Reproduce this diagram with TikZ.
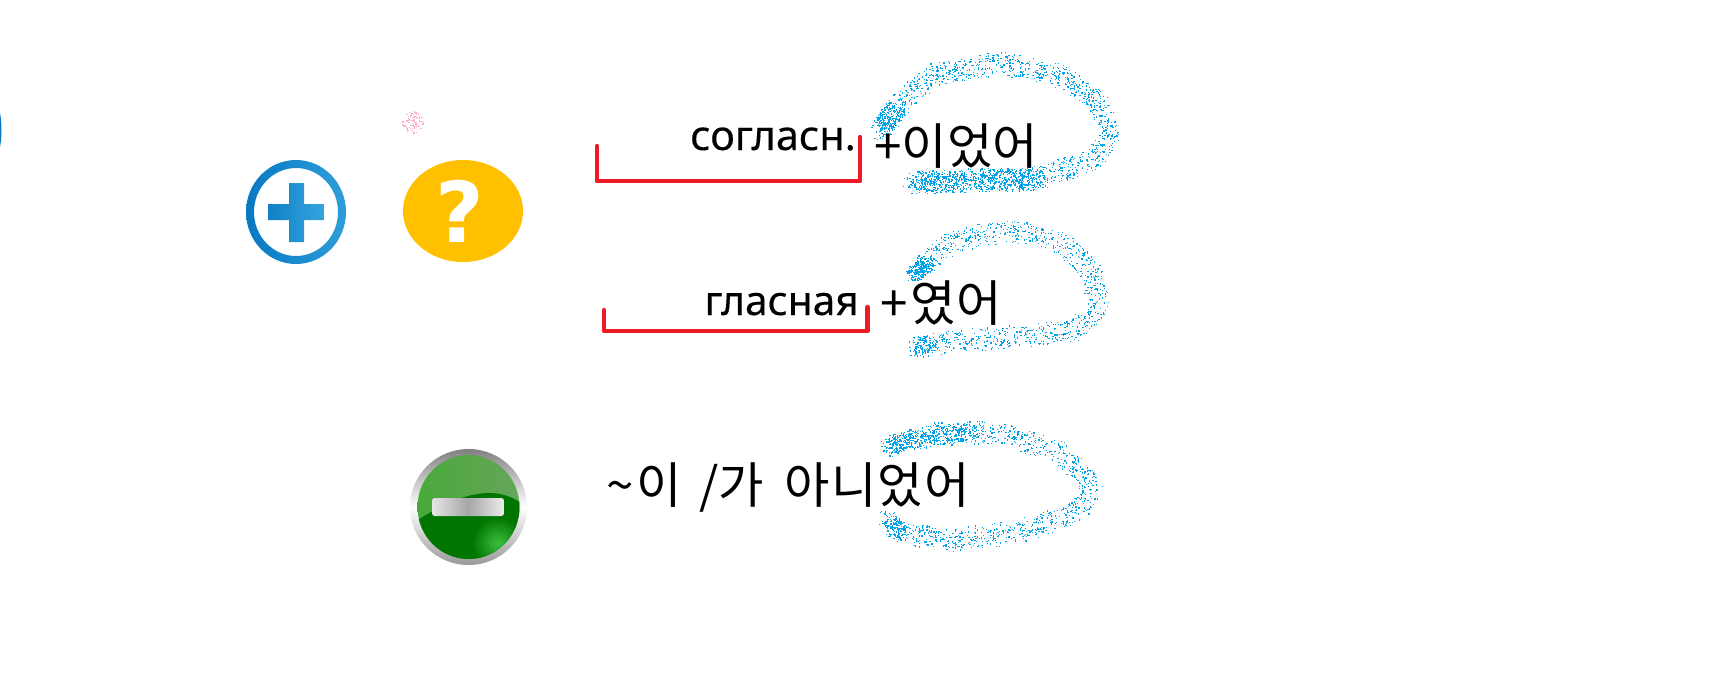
\documentclass[tikz,border=0pt]{standalone}
\usepackage{fontspec}
\setmainfont{Noto Sans}
\newfontfamily\korfont{Noto Sans CJK KR}
\newfontfamily\cyrfont[FakeBold=0.3]{Noto Sans}
\newfontfamily\markfont{DejaVu Sans}
\definecolor{spraycol}{RGB}{0,162,232}
\definecolor{pinkcol}{RGB}{255,174,201}
\definecolor{redcol}{RGB}{237,28,36}
\definecolor{ambercol}{RGB}{255,192,0}
\definecolor{plusdark}{RGB}{8,120,194}
\definecolor{pluslight}{RGB}{53,165,222}
% spray along straight pieces: colour, dots per pixel, radius, pieces
\newcommand{\sprayline}[4]{%
  \foreach \ax/\ay/\bx/\by in {#4} {
    \pgfmathtruncatemacro\spraynum{veclen(\bx-\ax,\by-\ay)*#2+1}
    \foreach \k in {1,...,\spraynum} {
      \pgfmathsetmacro\sprayt{rnd}
      \pgfmathsetmacro\sprayr{#3*sqrt(rnd)}
      \pgfmathsetmacro\spraya{360*rnd}
      \fill [#1] ({\ax+(\bx-\ax)*\sprayt+\sprayr*cos(\spraya)},{\ay+(\by-\ay)*\sprayt+\sprayr*sin(\spraya)}) rectangle ++(1.25,1.25);
    }
  }
}
\tikzset{
  brackline/.style={color=redcol,line width=3.3pt,line cap=round,line join=round},
  cyrlabel/.style={anchor=base east,inner sep=0pt,font=\cyrfont\fontsize{31}{31}\selectfont},
  korlabel/.style={anchor=base west,inner sep=0pt,font=\korfont\fontsize{37}{37}\selectfont},
}
\begin{document}
\begin{tikzpicture}[x=0.75pt,y=0.75pt,yscale=-1]
    \useasboundingbox (0,0) rectangle (1714,694);
    \pgfmathsetseed{4711}

    %Spray Lines
    \sprayline{spraycol}{2.6}{12}{885/127/901/100,901/100/937/73,937/73/1001/63,1001/63/1055/73,1055/73/1094/97,1094/97/1110/133,1110/133/1094/157,1094/157/1044/177,1044/177/973/180,973/180/912/182}
    \sprayline{spraycol}{2.2}{12}{916/273/951/240,951/240/1009/230,1009/230/1062/243,1062/243/1091/270,1091/270/1098/310,1098/310/1073/330,1073/330/1009/337,1009/337/955/340,955/340/919/347}
    \sprayline{spraycol}{2.2}{12}{888/447/940/432,940/432/1002/433,1002/433/1060/452,1060/452/1093/487,1093/487/1074/513,1074/513/1012/533,1012/533/940/540,940/540/897/530,897/530/888/520}
    %denser starts and ends
    \sprayline{spraycol}{8}{11}{880/130/895/108}
    \sprayline{spraycol}{5}{12}{915/182/1040/178}
    \sprayline{spraycol}{10}{9}{912/275/928/262}
    \sprayline{spraycol}{8}{11}{915/347/930/345}
    \sprayline{spraycol}{8}{10}{888/447/905/440}
    \sprayline{spraycol}{3.5}{11}{905/440/975/431}
    \sprayline{spraycol}{8}{10}{890/520/900/532}
    \sprayline{pinkcol}{45}{11}{412/122/414/122}

    %Left edge
    \fill [plusdark] (0,113) .. controls (2,122) and (2,138) .. (0,147) -- cycle;

    %Plus icon
    \shade [even odd rule,shading angle=60,left color=plusdark,right color=pluslight!85!plusdark] (296,212) ellipse [x radius=50,y radius=52] (296,212) ellipse [x radius=42,y radius=44];
    \shade [shading angle=60,left color=plusdark!80!pluslight,right color=pluslight] (268,204) -- (289,204) -- (289,183) -- (304,183) -- (304,204) -- (324,204) -- (324,220) -- (304,220) -- (304,242) -- (289,242) -- (289,220) -- (268,220) -- cycle;

    %Question icon
    \fill [ambercol] (463,211) ellipse [x radius=60,y radius=51];
    \draw (460,242) node [anchor=base,inner sep=0pt,text=white,font=\markfont\fontsize{63}{63}\selectfont\bfseries] (qmark) {?};

    %Minus icon
    \shade [top color=black!50,bottom color=black!40,middle color=white] (468.5,507) ellipse [x radius=58.5,y radius=58];
    \begin{scope}
      \clip (468.5,507) ellipse [x radius=51,y radius=52];
      \shade [left color={rgb,255:red,70;green,170;blue,55},right color={rgb,255:red,105;green,165;blue,95}] (410,440) rectangle (530,570);
      \fill [color={rgb,255:red,0;green,118;blue,0}] (410,525) .. controls (440,505) and (465,493) .. (490,493) .. controls (505,493) and (520,500) .. (530,510) -- (530,570) -- (410,570) -- cycle;
      \shade [inner color={rgb,255:red,60;green,190;blue,60},outer color={rgb,255:red,0;green,118;blue,0}] (498,543) circle [radius=26];
    \end{scope}
    \shade [rounded corners=2pt,left color=white!80!gray,right color=white!85!gray,middle color=black!35] (432,498) rectangle (504,516);

    %Red brackets
    \draw [brackline] (597,146) -- (597,181) -- (860,181) -- (860,137);
    \draw [brackline] (604,310) -- (604,331) -- (867.5,331) -- (867.5,307);

    % Text Node
    \draw (856,150) node [cyrlabel] (conslabel) {согласн.};
    % Text Node
    \draw (859,315) node [cyrlabel,font=\cyrfont\fontsize{30.5}{31}\selectfont] (vowlabel) {гласная};
    % Text Node
    \draw (874,164) node [korlabel] (consend) {+이었어};
    % Text Node
    \draw (880,321) node [korlabel] (vowend) {+\hspace{2.5pt}였어};
    % Text Node
    \draw (606,503) node [korlabel] (negend) {\textasciitilde\hspace{2pt}이\hspace{5pt} /가\hspace{7pt} 아\hspace{1pt}니\hspace{1pt}었\hspace{1pt}어};

\end{tikzpicture}
\end{document}
